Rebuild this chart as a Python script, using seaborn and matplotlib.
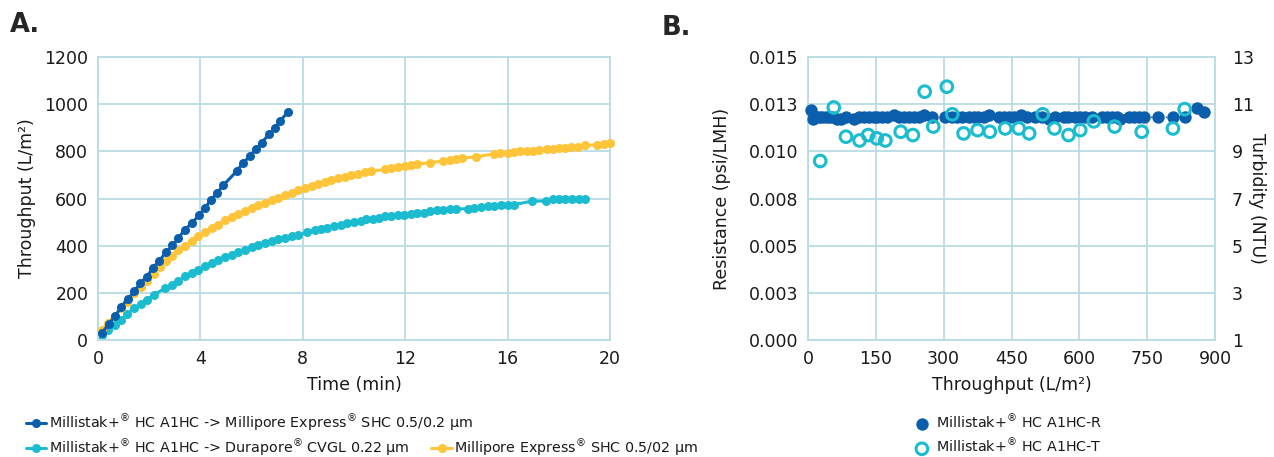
import numpy as np
import pandas as pd
import matplotlib
matplotlib.use("Agg")
import matplotlib.pyplot as plt
import seaborn as sns

# ---------------- data: panel A ----------------
blue_t = [0.16, 0.42, 0.68, 0.91, 1.16, 1.42, 1.65, 1.91, 2.14, 2.39, 2.66, 2.91, 3.14, 3.40, 3.66,
          3.94, 4.18, 4.40, 4.66, 4.90, 5.42, 5.65, 5.94, 6.17, 6.39, 6.68, 6.91, 7.11, 7.41]
blue_q = [30, 68, 102, 142, 173, 206, 241, 269, 305, 336, 372, 401, 433, 468, 496,
          528, 560, 593, 624, 657, 716, 749, 780, 809, 837, 872, 901, 929, 965]

cyan_t = [0.16, 0.39, 0.65, 0.91, 1.15, 1.41, 1.67, 1.91, 2.17, 2.63, 2.89, 3.13, 3.40, 3.66, 3.92,
          4.18, 4.44, 4.70, 4.96, 5.22, 5.48, 5.74, 6.00, 6.26, 6.52, 6.78, 7.04, 7.30, 7.56, 7.82,
          8.17, 8.46, 8.72, 8.95, 9.20, 9.50, 9.73, 9.99, 10.26, 10.48, 10.74, 10.96, 11.20, 11.46,
          11.70, 11.96, 12.22, 12.48, 12.74, 12.97, 13.23, 13.48, 13.74, 14.00, 14.46, 14.69, 14.95,
          15.22, 15.48, 15.74, 16.00, 16.24, 16.97, 17.50, 17.76, 18.02, 18.25, 18.51, 18.77, 19.01]
cyan_q = [21, 43, 64, 85, 111, 135, 153, 170, 191, 220, 234, 251, 270, 284, 298,
          312, 326, 338, 350, 362, 372, 383, 393, 403, 411, 418, 428, 434, 440, 445,
          457, 465, 471, 475, 482, 489, 496, 501, 503, 511, 513, 518, 525, 525,
          529, 532, 535, 539, 539, 545, 550, 553, 556, 556, 556, 560, 565,
          567, 570, 574, 574, 574, 589, 589, 596, 596, 596, 599, 599, 600]

yellow_t = [0.16, 0.39, 0.65, 0.91, 1.15, 1.41, 1.67, 1.91, 2.17, 2.43, 2.66, 2.91, 3.13, 3.40, 3.66,
            3.92, 4.18, 4.44, 4.70, 4.96, 5.22, 5.48, 5.74, 6.00, 6.26, 6.52, 6.78, 7.04, 7.30, 7.56,
            7.82, 8.08, 8.34, 8.60, 8.86, 9.12, 9.38, 9.64, 9.90, 10.16, 10.42, 10.68, 11.20, 11.43,
            11.70, 11.98, 12.22, 12.45, 12.96, 13.48, 13.74, 14.00, 14.22, 14.75, 15.48, 15.72, 16.00,
            16.24, 16.49, 16.75, 16.98, 17.23, 17.53, 17.76, 18.02, 18.25, 18.49, 18.75, 19.01, 19.50,
            19.76, 20.00]
yellow_q = [42, 74, 102, 135, 163, 199, 223, 251, 281, 309, 336, 357, 380, 400, 418,
            440, 457, 475, 489, 508, 522, 535, 549, 560, 572, 582, 593, 603, 613, 624,
            634, 644, 652, 663, 671, 679, 686, 693, 700, 706, 711, 716, 723, 729,
            735, 738, 740, 745, 752, 759, 765, 769, 771, 777, 789, 791, 794,
            797, 800, 801, 802, 806, 809, 811, 814, 815, 818, 820, 825, 827,
            833, 834]

label_blue = "Millistak+$^{®}$ HC A1HC -> Millipore Express$^{®}$ SHC 0.5/0.2 µm"
label_cyan = "Millistak+$^{®}$ HC A1HC -> Durapore$^{®}$ CVGL 0.22 µm"
label_yellow = "Millipore Express$^{®}$ SHC 0.5/02 µm"

# ---------------- data: panel B ----------------
res_x = [6, 10, 17, 24, 32, 39, 46, 54, 65, 72,
         83, 102, 113, 124, 135, 146, 153, 164, 175, 190,
         201, 212, 223, 234, 245, 256, 275, 304, 319, 330,
         341, 355, 366, 377, 389, 400, 422, 433, 444, 455,
         470, 484, 503, 517, 532, 547, 565, 576, 591, 602,
         613, 628, 650, 661, 672, 683, 690, 709, 720, 731,
         742, 775, 808, 834, 860, 876]
res_y = [0.0122, 0.0117, 0.0118, 0.0118, 0.0118, 0.0118, 0.0118, 0.0118, 0.0117, 0.0117,
         0.0118, 0.0117, 0.0118, 0.0118, 0.0118, 0.0118, 0.0118, 0.0118, 0.0118, 0.0119,
         0.0118, 0.0118, 0.0118, 0.0118, 0.0118, 0.0119, 0.0118, 0.0118, 0.0118, 0.0118,
         0.0118, 0.0118, 0.0118, 0.0118, 0.0118, 0.0119, 0.0118, 0.0118, 0.0118, 0.0118,
         0.0119, 0.0118, 0.0118, 0.0118, 0.0117, 0.0118, 0.0118, 0.0118, 0.0118, 0.0118,
         0.0118, 0.0118, 0.0118, 0.0118, 0.0118, 0.0118, 0.0117, 0.0118, 0.0118, 0.0118,
         0.0118, 0.0118, 0.0118, 0.0118, 0.0123, 0.0121]

turb_x = [27, 57, 84, 114, 133, 152, 171, 205, 232, 258, 277, 307, 319, 344, 375, 402, 436,
          466, 489, 519, 545, 576, 602, 632, 678, 738, 807, 833]
turb_y = [8.59, 10.86, 9.62, 9.46, 9.69, 9.55, 9.46, 9.83, 9.69, 11.53, 10.05, 11.74, 10.57,
          9.76, 9.90, 9.83, 9.97, 9.97, 9.76, 10.57, 9.97, 9.69, 9.90, 10.27, 10.05, 9.83, 9.97,
          10.79]

a_xticks = [0, 4, 8, 12, 16, 20]
a_yticks = [0, 200, 400, 600, 800, 1000, 1200]
b_xticks = [0, 150, 300, 450, 600, 750, 900]
b_yticks = [0, 0.0025, 0.005, 0.0075, 0.01, 0.0125, 0.015]
b_ylabels = ["0.000", "0.003", "0.005", "0.008", "0.010", "0.013", "0.015"]
b_y2ticks = [1, 3, 5, 7, 9, 11, 13]

# ---------------- style ----------------
sns.set_theme(style="white")
plt.rcParams["font.family"] = ["DejaVu Sans"]
plt.rcParams["mathtext.fontset"] = "dejavusans"

BLUE = "#0b5eab"
CYAN = "#1bbccf"
YELLOW = "#fec43a"
GRID = "#b9dbe3"
TXT = "#1a1a1a"
TICK_FS = 12.5
LAB_FS = 12.5
LEG_FS = 10.3

fig = plt.figure(figsize=(12.74, 4.57), dpi=100)
W, H = 1274, 457
axA = fig.add_axes([98 / W, 1 - 340 / H, (610 - 98) / W, (340 - 57) / H])
axB = fig.add_axes([808 / W, 1 - 340 / H, (1215 - 808) / W, (340 - 57) / H])

def style_axes(ax):
    for s in ax.spines.values():
        s.set_color(GRID)
        s.set_linewidth(1.3)
    ax.grid(True, color=GRID, linewidth=1.3)
    ax.set_axisbelow(True)
    ax.tick_params(axis="both", length=0, labelsize=TICK_FS, colors=TXT, pad=7)

# ---------------- panel A ----------------
dfA = pd.concat([
    pd.DataFrame({"t": blue_t, "q": blue_q, "s": label_blue}),
    pd.DataFrame({"t": cyan_t, "q": cyan_q, "s": label_cyan}),
    pd.DataFrame({"t": yellow_t, "q": yellow_q, "s": label_yellow}),
])
order = [label_blue, label_cyan, label_yellow]
colors = [BLUE, CYAN, YELLOW]
for lab, col in zip(order, colors):
    sub = dfA[dfA["s"] == lab]
    sns.lineplot(data=sub, x="t", y="q", ax=axA, color=col, marker="o", markersize=6.5,
                 markeredgewidth=0, linewidth=2.2, label=lab, clip_on=False, estimator=None)
for ln, z in zip(axA.get_lines(), [4, 2, 3]):
    ln.set_zorder(z)

axA.set_xlim(0, 20)
axA.set_ylim(0, 1200)
axA.set_xticks(a_xticks)
axA.set_yticks(a_yticks)
style_axes(axA)
axA.set_xlabel("Time (min)", fontsize=LAB_FS, color=TXT)
axA.set_ylabel("Throughput (L/m²)", fontsize=LAB_FS, color=TXT)
axA.xaxis.set_label_coords(0.5, -0.128)
axA.yaxis.set_label_coords(-0.122, 0.5)
hA, lA = axA.get_legend_handles_labels()
axA.get_legend().remove()

leg_kw = dict(frameon=False, fontsize=LEG_FS, handlelength=1.45, handletextpad=0.16,
              borderaxespad=0, loc="upper left")
legA1 = fig.legend([hA[0]], [lA[0]], bbox_to_anchor=(20 / W, 1 - 407 / H), **leg_kw)
legA2 = fig.legend([hA[1], hA[2]], [lA[1], lA[2]], ncol=2, columnspacing=1.55,
                   bbox_to_anchor=(20 / W, 1 - 432 / H), **leg_kw)
for lg in (legA1, legA2):
    for t in lg.get_texts():
        t.set_color(TXT)

fig.text(10 / W, 1 - 25 / H, "A.", fontsize=18.5, fontweight="bold", va="center", ha="left")
fig.text(662 / W, 1 - 28 / H, "B.", fontsize=18.5, fontweight="bold", va="center", ha="left")

# ---------------- panel B ----------------
dfR = pd.DataFrame({"x": res_x, "y": res_y})
dfT = pd.DataFrame({"x": turb_x, "y": turb_y})
sns.lineplot(data=dfR, x="x", y="y", ax=axB, color=BLUE, linestyle=":", linewidth=1,
             estimator=None, legend=False)
sns.scatterplot(data=dfR, x="x", y="y", ax=axB, color=BLUE, s=52, linewidth=0,
                label="Millistak+$^{®}$ HC A1HC-R", zorder=3, clip_on=False)
axB.set_xlim(0, 900)
axB.set_ylim(0, 0.015)
axB.set_xticks(b_xticks)
axB.set_yticks(b_yticks)
axB.set_yticklabels(b_ylabels)
style_axes(axB)
axB.set_xlabel("Throughput (L/m²)", fontsize=LAB_FS, color=TXT)
axB.set_ylabel("Resistance (psi/LMH)", fontsize=LAB_FS, color=TXT)
axB.xaxis.set_label_coords(0.5, -0.128)
axB.yaxis.set_label_coords(-0.19, 0.5)

axB2 = axB.twinx()
sns.scatterplot(data=dfT, x="x", y="y", ax=axB2, facecolor="none", edgecolor=CYAN,
                s=20, linewidth=1.5, marker="o", label="Millistak+$^{®}$ HC A1HC-T", zorder=4)
axB2.set_ylim(1, 13)
axB2.set_yticks(b_y2ticks)
axB2.grid(False)
for s in axB2.spines.values():
    s.set_visible(False)
axB2.tick_params(axis="y", length=0, labelsize=TICK_FS, colors=TXT, pad=12)
axB2.set_ylabel("Turbidity (NTU)", fontsize=LAB_FS, color=TXT, rotation=270, labelpad=9)

h1, l1 = axB.get_legend_handles_labels()
h2, l2 = axB2.get_legend_handles_labels()
axB.get_legend().remove()
axB2.get_legend().remove()
h2[0].set_sizes([70])
h2[0].set_linewidth(2.2)
h1[0].set_sizes([80])
legB = fig.legend(h1 + h2, l1 + l2, loc="upper left", bbox_to_anchor=(909 / W, 1 - 407 / H),
                  frameon=False, fontsize=LEG_FS, handlelength=1.0, handletextpad=0.5,
                  labelspacing=0.42, borderaxespad=0, markerscale=1.0)
for t in legB.get_texts():
    t.set_color(TXT)

fig.savefig("out.png", dpi=100)
